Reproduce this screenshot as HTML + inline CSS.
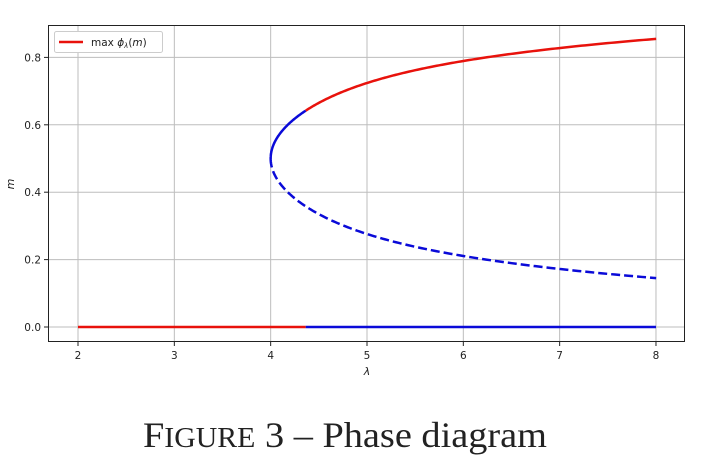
<!DOCTYPE html>
<html><head><meta charset="utf-8"><style>
body{margin:0;background:#fff;width:724px;height:470px;overflow:hidden}
svg text{font-family:"DejaVu Sans","Liberation Sans",sans-serif;fill:#222}
</style></head><body>
<svg id="s" width="724" height="470" xmlns="http://www.w3.org/2000/svg">
<g stroke="#bdbdbd" stroke-width="1" id="grid"></g>
<rect x="48.5" y="25.5" width="636" height="316" fill="none" stroke="#222" stroke-width="1"/>
<g id="ticks" font-size="10.5"></g>
<text x="367" y="375" font-size="11" text-anchor="middle" font-style="italic">λ</text>
<text x="0" y="0" font-size="11" font-style="italic" transform="translate(14,184) rotate(-90)" text-anchor="middle">m</text>
<path id="bz" fill="none" stroke="#e8120c" stroke-width="2.5"/>
<path id="bb" fill="none" stroke="#0a0ad8" stroke-width="2.5"/>
<path id="up" fill="none" stroke="#0a0ad8" stroke-width="2.5"/>
<path id="ur" fill="none" stroke="#e8120c" stroke-width="2.5"/>
<path id="lo" fill="none" stroke="#0a0ad8" stroke-width="2.5" stroke-dasharray="9,4"/>
<rect x="54.5" y="31.5" width="108" height="21" rx="2" fill="#fff" stroke="#ccc"/>
<line x1="59" y1="42" x2="83" y2="42" stroke="#e8120c" stroke-width="2.5"/>
<text x="91" y="46" font-size="10.5">max <tspan font-style="italic">ϕ</tspan><tspan font-size="7" dy="2" font-style="italic">λ</tspan><tspan dy="-2">(</tspan><tspan font-style="italic">m</tspan>)</text>
<text x="345" y="447" style="font-family:'Liberation Serif',serif" font-size="36" text-anchor="middle" textLength="404" lengthAdjust="spacingAndGlyphs" fill="#000">F<tspan font-size="28">IGURE</tspan> 3 – Phase diagram</text>
</svg>
<script>
const X=l=>78+(l-2)*96.33, Y=m=>327-m*337;
let g='',t='';
for(let l=2;l<=8;l++){g+=`<line x1="${X(l)}" y1="25" x2="${X(l)}" y2="342"/>`;
 t+=`<line x1="${X(l)}" y1="342" x2="${X(l)}" y2="346" stroke="#222"/><text x="${X(l)}" y="359" text-anchor="middle">${l}</text>`;}
for(let i=0;i<=4;i++){const m=i*0.2;g+=`<line x1="48" y1="${Y(m)}" x2="685" y2="${Y(m)}"/>`;
 t+=`<line x1="44" y1="${Y(m)}" x2="48" y2="${Y(m)}" stroke="#222"/><text x="41" y="${Y(m)+4}" text-anchor="end">${m.toFixed(1)}</text>`;}
document.getElementById('grid').innerHTML=g;document.getElementById('ticks').innerHTML=t;
const L=d=>4+17.7*d*d+885*Math.pow(d,6);
let dm=0;while(L(dm)<8)dm+=0.0002;
const dt=0.142;
function pts(a,b,s){let p=[];for(let i=0;i<=200;i++){const d=a+(b-a)*i/200;p.push(X(L(d)).toFixed(2)+','+Y(0.5+s*d).toFixed(2));}return 'M'+p.join('L');}
document.getElementById('up').setAttribute('d',pts(0,dt,1));
document.getElementById('ur').setAttribute('d',pts(dt,dm,1));
document.getElementById('lo').setAttribute('d',pts(0,dm,-1));
const lt=L(dt);
document.getElementById('bz').setAttribute('d',`M${X(2)},${Y(0)}L${X(lt)},${Y(0)}`);
document.getElementById('bb').setAttribute('d',`M${X(lt)},${Y(0)}L${X(8)},${Y(0)}`);
</script>
</body></html>
